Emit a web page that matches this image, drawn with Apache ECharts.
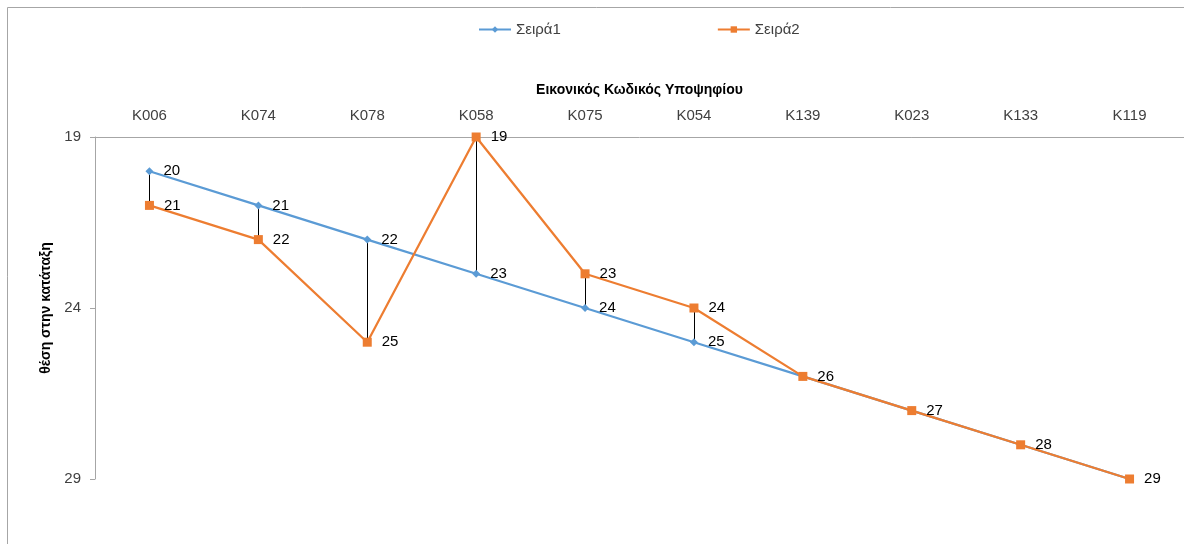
<!DOCTYPE html>
<html>
<head>
<meta charset="utf-8">
<script src="https://cdn.jsdelivr.net/npm/echarts@6/dist/echarts.min.js"></script>
<style>
html,body{margin:0;padding:0;background:#fff;}
#c{width:1184px;height:544px;}
</style>
</head>
<body>
<div id="c"></div>
<script>
const categories = ['K006','K074','K078','K058','K075','K054','K139','K023','K133','K119'];
const series1 = [20,21,22,23,24,25,26,27,28,29];
const series2 = [21,22,25,19,23,24,26,27,28,29];
const seriesNames = ['Σειρά1','Σειρά2'];
const xTitle = 'Εικονικός Κωδικός Υποψηφίου';
const yTitle = 'θέση στην κατάταξη';

const FONT = 'Liberation Sans';
const chart = echarts.init(document.getElementById('c'));
const dropData = categories.map((c, i) => [i, series1[i], series2[i]]);

chart.setOption({
  animation: false,
  backgroundColor: '#fff',
  textStyle: { fontFamily: FONT },
  graphic: [{
    type: 'rect', z: -10,
    shape: { x: 7.5, y: 7.5, width: 1200, height: 600 },
    style: { fill: 'none', stroke: '#a6a6a6', lineWidth: 1 }
  }],
  legend: {
    data: seriesNames,
    top: 17,
    left: 473,
    itemGap: 156,
    itemWidth: 32,
    itemHeight: 8,
    textStyle: { fontFamily: FONT, fontSize: 15, color: '#404040' }
  },
  grid: { left: 95, top: 137, width: 1090, height: 342 },
  xAxis: {
    type: 'category',
    position: 'top',
    data: categories,
    boundaryGap: true,
    name: xTitle,
    nameLocation: 'middle',
    nameGap: 40,
    nameTextStyle: { fontFamily: FONT, fontSize: 14, fontWeight: 'bold', color: '#000' },
    axisLine: { show: true, lineStyle: { color: '#a6a6a6', width: 1 } },
    axisTick: { show: false },
    axisLabel: { margin: 14, fontFamily: FONT, fontSize: 15, color: '#404040', interval: 0 },
    splitLine: { show: false }
  },
  yAxis: {
    type: 'value',
    inverse: true,
    min: 19, max: 29, interval: 5,
    name: yTitle,
    nameLocation: 'middle',
    nameGap: 37,
    nameRotate: 90,
    nameTextStyle: { fontFamily: FONT, fontSize: 14, fontWeight: 'bold', color: '#000' },
    axisLine: { show: true, lineStyle: { color: '#a6a6a6', width: 1 } },
    axisTick: { show: true, length: 5, lineStyle: { color: '#a6a6a6' } },
    axisLabel: { margin: 14, fontFamily: FONT, fontSize: 15, color: '#404040' },
    splitLine: { show: false }
  },
  series: [
    {
      name: 'drop',
      type: 'custom',
      z: 1,
      data: dropData,
      encode: { x: 0, y: [1, 2] },
      renderItem: function (params, api) {
        const x = Math.round(api.coord([api.value(0), api.value(1)])[0]) + 0.5;
        const a = api.coord([api.value(0), api.value(1)]);
        const b = api.coord([api.value(0), api.value(2)]);
        return {
          type: 'line',
          shape: { x1: x, y1: a[1], x2: x, y2: b[1] },
          style: { stroke: '#000', lineWidth: 1 }
        };
      },
      silent: true
    },
    {
      name: seriesNames[0],
      type: 'line',
      z: 3,
      data: series1,
      symbol: 'diamond',
      symbolSize: 8,
      itemStyle: { color: '#5B9BD5' },
      lineStyle: { color: '#5B9BD5', width: 2.25 },
      label: {
        show: true, position: 'right', distance: 10, fontFamily: FONT, fontSize: 15, color: '#000',
        formatter: function (p) { return series2[p.dataIndex] === p.value ? '' : String(p.value); }
      }
    },
    {
      name: seriesNames[1],
      type: 'line',
      z: 4,
      data: series2,
      symbol: 'rect',
      symbolSize: 9,
      itemStyle: { color: '#ED7D31' },
      lineStyle: { color: '#ED7D31', width: 2.25 },
      label: { show: true, position: 'right', distance: 10, fontFamily: FONT, fontSize: 15, color: '#000' }
    }
  ]
});
</script>
</body>
</html>
